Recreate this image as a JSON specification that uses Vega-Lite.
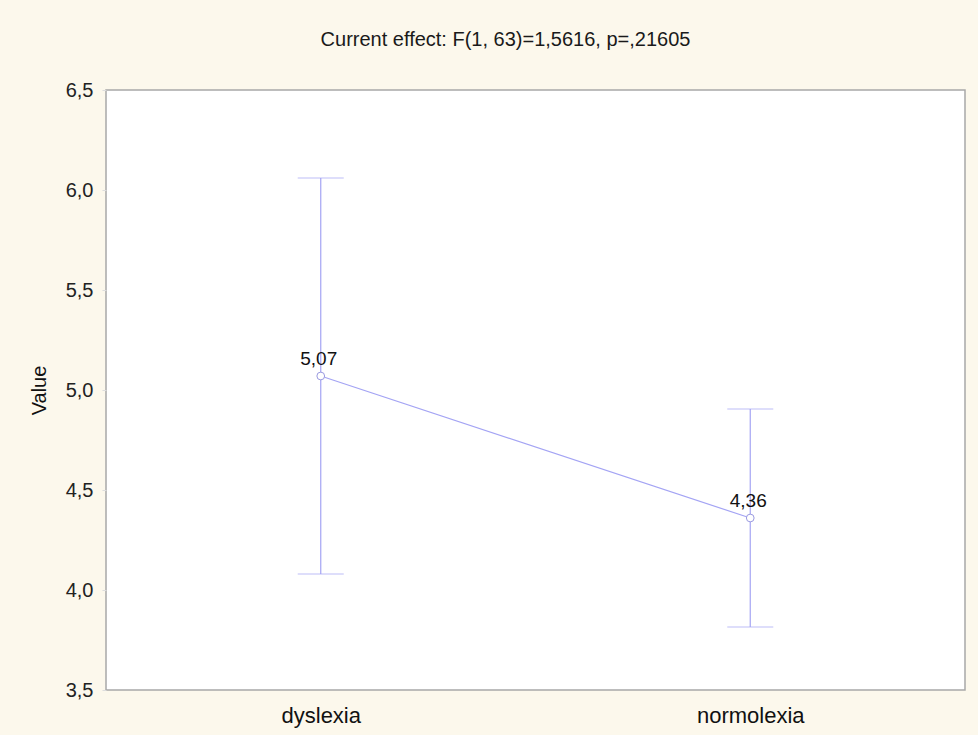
{
  "$schema": "https://vega.github.io/schema/vega-lite/v6.json",
  "width": 859,
  "height": 600,
  "autosize": {"type": "none"},
  "padding": {"left": 106, "top": 90, "right": 13, "bottom": 45},
  "background": "#fcf8ec",
  "title": {
    "text": "Current effect: F(1, 63)=1,5616, p=,21605",
    "font": "Liberation Sans",
    "fontSize": 20,
    "fontWeight": "normal",
    "color": "#1a1a1a",
    "anchor": "middle",
    "dx": -30,
    "offset": 30
  },
  "data": {
    "values": [
      {"group": "dyslexia", "mean": 5.07, "lower": 4.08, "upper": 6.06},
      {"group": "normolexia", "mean": 4.36, "lower": 3.815, "upper": 4.905}
    ]
  },
  "encoding": {
    "x": {
      "field": "group",
      "type": "nominal",
      "sort": null,
      "scale": {"type": "point", "padding": 0.5},
      "axis": {
        "title": null,
        "domain": false,
        "ticks": false,
        "labelAngle": 0,
        "labelFont": "Liberation Sans",
        "labelFontSize": 22,
        "labelColor": "#111111",
        "labelPadding": 15,
        "labelDx": 3
      }
    }
  },
  "layer": [
    {
      "mark": {"type": "rule", "color": "#a4a4f4", "strokeWidth": 1.2},
      "encoding": {
        "y": {
          "field": "lower",
          "type": "quantitative",
          "scale": {"domain": [3.5, 6.5], "nice": false, "zero": false},
          "axis": {
            "title": "Value",
            "titleFont": "Liberation Sans",
            "titleFontSize": 20,
            "titleFontWeight": "normal",
            "titleColor": "#111111",
            "titlePadding": 16,
            "values": [3.5, 4, 4.5, 5, 5.5, 6, 6.5],
            "labelExpr": "replace(format(datum.value, '.1f'), '.', ',')",
            "labelFont": "Liberation Sans",
            "labelFontSize": 20,
            "labelColor": "#222222",
            "labelPadding": 9,
            "domain": false,
            "grid": false,
            "tickSize": 4,
            "tickColor": "#dddddd"
          }
        },
        "y2": {"field": "upper"}
      }
    },
    {
      "mark": {"type": "tick", "color": "#a4a4f4", "size": 46, "thickness": 1.2},
      "encoding": {"y": {"field": "upper", "type": "quantitative"}}
    },
    {
      "mark": {"type": "tick", "color": "#a4a4f4", "size": 46, "thickness": 1.2},
      "encoding": {"y": {"field": "lower", "type": "quantitative"}}
    },
    {
      "mark": {"type": "line", "color": "#a4a4f4", "strokeWidth": 1.2},
      "encoding": {"y": {"field": "mean", "type": "quantitative"}}
    },
    {
      "mark": {"type": "point", "shape": "circle", "filled": true, "fill": "white", "stroke": "#9a9ae0", "strokeWidth": 1, "size": 60, "opacity": 1},
      "encoding": {"y": {"field": "mean", "type": "quantitative"}}
    },
    {
      "mark": {"type": "text", "font": "Liberation Sans", "fontSize": 19, "color": "#111111", "dy": -17, "dx": -2},
      "encoding": {
        "y": {"field": "mean", "type": "quantitative"},
        "text": {"field": "mean", "type": "quantitative", "format": ".2f"}
      }
    }
  ],
  "config": {
    "locale": {
      "number": {"decimal": ",", "thousands": ".", "grouping": [3], "currency": ["", ""]}
    },
    "view": {"fill": "white", "stroke": "#a8a8a8", "strokeWidth": 1.5}
  }
}
